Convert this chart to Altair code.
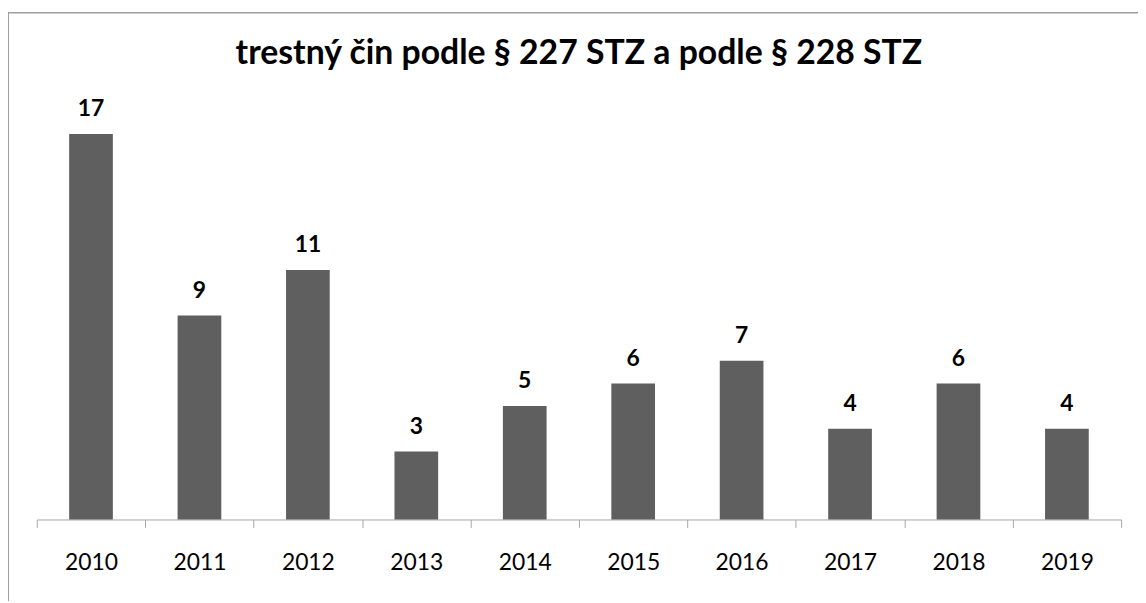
import altair as alt
import pandas as pd

years = ["2010", "2011", "2012", "2013", "2014", "2015", "2016", "2017", "2018", "2019"]
values = [17, 9, 11, 3, 5, 6, 7, 4, 6, 4]
title_text = "trestný čin podle § 227 STZ a podle § 228 STZ"

df = pd.DataFrame({"rok": years, "pocet": values})

W = 1092
H = 411
PAD_L, PAD_T, PAD_R, PAD_B = 29, 102, 17, 82
FONT = "Lato"

x_enc = alt.X(
    "rok:N",
    sort=years,
    title=None,
    scale=alt.Scale(paddingInner=0, paddingOuter=0),
    axis=alt.Axis(
        labelAngle=0,
        labelFont=FONT,
        labelFontSize=23,
        labelColor="#000000",
        labelPadding=24,
        tickBand="extent",
        tickSize=8,
        tickColor="#a6a6a6",
        domainColor="#a6a6a6",
        grid=False,
    ),
)
y_enc = alt.Y("pocet:Q", scale=alt.Scale(domain=[0, 18], nice=False), axis=None)

bars = alt.Chart(df).mark_bar(size=44, color="#5f5f5f").encode(x=x_enc, y=y_enc)

labels = alt.Chart(df).mark_text(
    font=FONT, fontSize=23, fontWeight="bold", color="#000000",
    baseline="alphabetic", dy=-18,
).encode(x=alt.X("rok:N", sort=years), y=alt.Y("pocet:Q"), text="pocet:Q")

border_top = alt.Chart(df).mark_rule(color="#a0a0a0", strokeWidth=1, clip=False).encode(
    x=alt.value(-PAD_L + 0.5), x2=alt.value(W + PAD_R), y=alt.value(-PAD_T + 2.5)
)
border_left = alt.Chart(df).mark_rule(color="#a0a0a0", strokeWidth=1, clip=False).encode(
    x=alt.value(-PAD_L + 0.5), y=alt.value(-PAD_T + 2.5), y2=alt.value(H + PAD_B)
)

chart = alt.layer(bars, labels, border_top, border_left).properties(
    width=W,
    height=H,
    autosize=alt.AutoSizeParams(type="none"),
    padding={"left": PAD_L, "top": PAD_T, "right": PAD_R, "bottom": PAD_B},
    title=alt.TitleParams(
        title_text,
        font=FONT,
        fontSize=34,
        fontWeight="bold",
        color="#000000",
        anchor="middle",
        baseline="alphabetic",
        offset=-86,
    ),
).configure_view(stroke=None)

chart.save("out.html", embed_options={"renderer": "svg", "actions": False})
